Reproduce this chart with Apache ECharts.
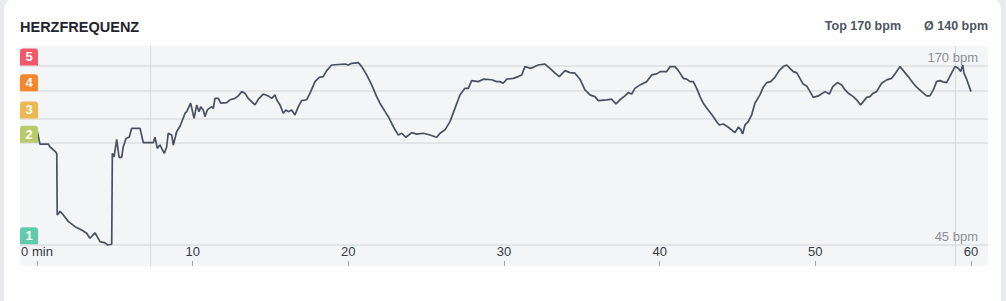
<!DOCTYPE html>
<html><head><meta charset="utf-8">
<script src="https://cdn.jsdelivr.net/npm/echarts@6/dist/echarts.min.js"></script>
<style>
html,body{margin:0;padding:0;width:1006px;height:301px;overflow:hidden;background:#e8eaee;}
#card{position:absolute;left:4px;top:-1px;width:997px;height:330px;background:#fff;border-radius:10px;}
#panel{position:absolute;left:20px;top:46px;width:968px;height:220px;background:#f4f5f7;border-radius:5px;}
#chart{position:absolute;left:0;top:0;width:1006px;height:301px;}
</style></head><body>
<div id="card"></div><div id="panel"></div><div id="chart"></div>
<script>
const titleText = 'HERZFREQUENZ';
const statTop = 'Top 170 bpm';
const statAvg = 'Ø 140 bpm';

const minutes = [0.00,0.19,0.73,0.84,1.16,1.27,1.30,1.48,1.69,2.01,2.44,2.87,3.19,3.40,3.73,4.05,4.37,4.52,4.80,4.84,4.95,5.12,5.27,5.44,5.54,5.72,5.93,6.08,6.62,6.83,7.47,7.58,7.73,7.90,8.01,8.18,8.33,8.43,8.65,8.76,8.97,9.19,9.51,9.62,9.87,10.09,10.26,10.41,10.52,10.68,10.79,10.94,11.22,11.33,11.43,11.65,11.80,12.19,12.40,12.72,12.93,13.15,13.36,13.57,13.79,14.00,14.22,14.54,14.86,15.08,15.29,15.40,15.61,15.82,15.99,16.14,16.36,16.57,16.79,17.00,17.32,17.54,17.86,18.13,18.39,18.61,18.93,19.79,20.00,20.22,20.64,20.86,21.18,21.50,21.82,22.03,22.36,22.57,22.78,23.00,23.21,23.43,23.70,24.07,24.39,24.82,25.25,25.57,25.68,25.89,26.21,26.53,26.85,27.17,27.49,27.71,27.92,28.35,28.67,29.21,29.53,29.74,29.95,30.17,30.60,30.92,31.14,31.35,31.67,31.88,32.20,32.63,32.95,33.28,33.55,33.92,34.24,34.56,34.88,35.20,35.52,35.84,36.06,36.60,36.92,37.19,37.45,37.77,37.98,38.20,38.41,38.74,39.17,39.49,39.81,40.03,40.45,40.67,40.99,41.20,41.52,41.74,41.95,42.16,42.38,42.59,42.80,43.12,43.45,43.66,43.83,44.09,44.41,44.62,44.84,45.05,45.20,45.33,45.48,45.69,45.91,46.12,46.44,46.66,46.87,47.13,47.40,47.68,47.94,48.16,48.37,48.58,48.80,49.01,49.22,49.44,49.66,49.87,50.19,50.62,50.90,51.12,51.42,51.69,51.91,52.12,52.44,52.70,52.91,53.08,53.30,53.51,53.72,53.94,54.26,54.58,54.90,55.12,55.44,55.65,55.97,56.29,56.51,56.83,57.15,57.36,57.58,57.79,58.00,58.22,58.43,58.75,58.97,59.18,59.34,59.47,59.55,59.72,60.00];
const heartRate = [125,115,115,113,110,108.5,65.5,68,65.5,61,57.3,55,52.7,49.2,53,46.8,46,44.5,45,108.6,106,118.4,105.8,105.8,113,119,120,126,126,116,116,119.8,112,114.4,112,108.6,113,122.6,121.4,114.4,123.7,127.5,136.6,137.7,143.6,133,142.4,137.7,141.2,138.9,134.2,138.9,141.2,140,147,147,143.6,144,146,147,148.7,151.7,150.6,147,144.7,142.4,146.4,150,148.7,147,149.4,146,142.4,136.6,138.9,137.7,138.9,135.4,141.2,145.4,146,150.6,158.7,161.7,162.2,166.4,170.3,171,170.3,171.5,172,169.2,163.4,156.4,148.2,143.6,137.7,134.2,129.6,125,121.4,122.6,119.8,123,122,122.6,121.4,120.2,119.8,122.6,125,130.7,140,149.4,154,154,159.4,158.7,160.4,160,158.7,158.7,157.6,160.4,161,162.2,163.4,169.2,168,168.7,170.3,171,168,164.6,162.2,166.4,165,164.6,160.4,152.9,149.4,148.2,145.4,146,146.4,143.1,146,148.7,151,150,154,156.4,158.7,163.4,164.1,165.7,165.7,169.2,169.2,166.4,161,160.4,158.7,158.7,154,148.2,143.6,138.9,134.2,130.7,128.4,129.1,126.8,125,123,126.8,125.4,122.1,128.4,130.7,135.4,143.6,149.4,154.8,158,158.7,161.7,166.4,169.2,170.3,168,165.7,165,161,157,155.7,151.7,147.7,148.7,151.7,150,155.2,158,156.4,152.9,150.6,148.2,145.4,142.4,144.7,147.7,148.2,150.6,151.7,157.6,159.9,161,164.1,169.2,166.4,162.2,157.6,154.8,151.7,148.7,148.7,152.9,158.7,159.4,158.5,158,164.6,169.2,168,165.7,170.3,164.6,160.4,151.7];

const xTicks = [0,10,20,30,40,50,60];
const zoneNames = ['1','2','3','4','5'];
const zoneBpm = [45,116,133,152,170];
const lapMinutes = [7.26,58.96];
const bpmLabelValues = [170,45];
const bpmLabelTexts = ['170 bpm','45 bpm'];

const zoneColors = ['#5fcbaa','#b8cb68','#ecb84f','#f7872a','#f4566a'];
const FONT = '"Liberation Sans", Arial, sans-serif';
const X_MIN = -1.092, X_MAX = 61.092;

const chart = echarts.init(document.getElementById('chart'), null, {renderer:'svg'});
const option = {
  animation:false,
  backgroundColor:'transparent',
  title:[
    {text:titleText,left:20,top:19,padding:0,textStyle:{fontFamily:FONT,fontSize:14.5,fontWeight:'bold',color:'#1f2430'}},
    {text:statAvg,right:18,top:19,padding:0,textStyle:{fontFamily:FONT,fontSize:12.5,fontWeight:'bold',color:'#4b5563'}},
    {text:statTop,right:105,top:19,padding:0,textStyle:{fontFamily:FONT,fontSize:12.5,fontWeight:'bold',color:'#4b5563'}}
  ],
  grid:{left:20,right:18,top:46,bottom:35},
  xAxis:{
    type:'value',min:X_MIN,max:X_MAX,
    splitLine:{show:false},
    axisLine:{show:false},
    axisTick:{show:true,customValues:xTicks,inside:true,length:5,lineStyle:{color:'#a3a6ab',width:1}},
    axisLabel:{customValues:xTicks,inside:true,margin:8,fontFamily:FONT,fontSize:13,fontWeight:500,color:'#333a47',
      formatter:v=> v===0 ? '0 min' : String(v)}
  },
  yAxis:{type:'value',min:29.8,max:183.6,show:false,splitLine:{show:false}},
  series:[
    {type:'line',data:[],z:1,silent:true,
      markLine:{z:1,silent:true,symbol:'none',label:{show:false},animation:false,
        data:[
          ...zoneBpm.map(v=>({yAxis:v,lineStyle:{color:'#e3e4e8',width:2,type:'solid'}})),
          ...lapMinutes.map(v=>({xAxis:v,lineStyle:{color:'#d6d8dc',width:1,type:'solid'}}))
        ]}},
    {type:'line',z:6,showSymbol:false,symbol:'none',silent:true,
      data:minutes.map((m,i)=>[m,heartRate[i]]),
      lineStyle:{color:'#485062',width:1.7}}
  ]
};
chart.setOption(option);

const g = [];
zoneBpm.forEach((v,i)=>{
  const p = chart.convertToPixel({gridIndex:0},[X_MIN,v]);
  g.push({type:'rect',z:10,shape:{x:p[0],y:p[1]-17,width:18,height:17,r:[3,3,0,0]},style:{fill:zoneColors[i]}});
  g.push({type:'text',z:11,x:p[0]+9,y:p[1]-8.5,style:{text:zoneNames[i],fill:'#ffffff',font:'bold 13px '+FONT,
    textAlign:'center',textVerticalAlign:'middle',align:'center',verticalAlign:'middle'}});
});
bpmLabelValues.forEach((v,i)=>{
  const p = chart.convertToPixel({gridIndex:0},[X_MIN,v]);
  g.push({type:'text',z:11,x:978,y:p[1]-1.5,style:{text:bpmLabelTexts[i],fill:'#8b8e94',font:'13px '+FONT,
    textAlign:'right',textVerticalAlign:'bottom',align:'right',verticalAlign:'bottom'}});
});
chart.setOption({graphic:g});
</script>
</body></html>
